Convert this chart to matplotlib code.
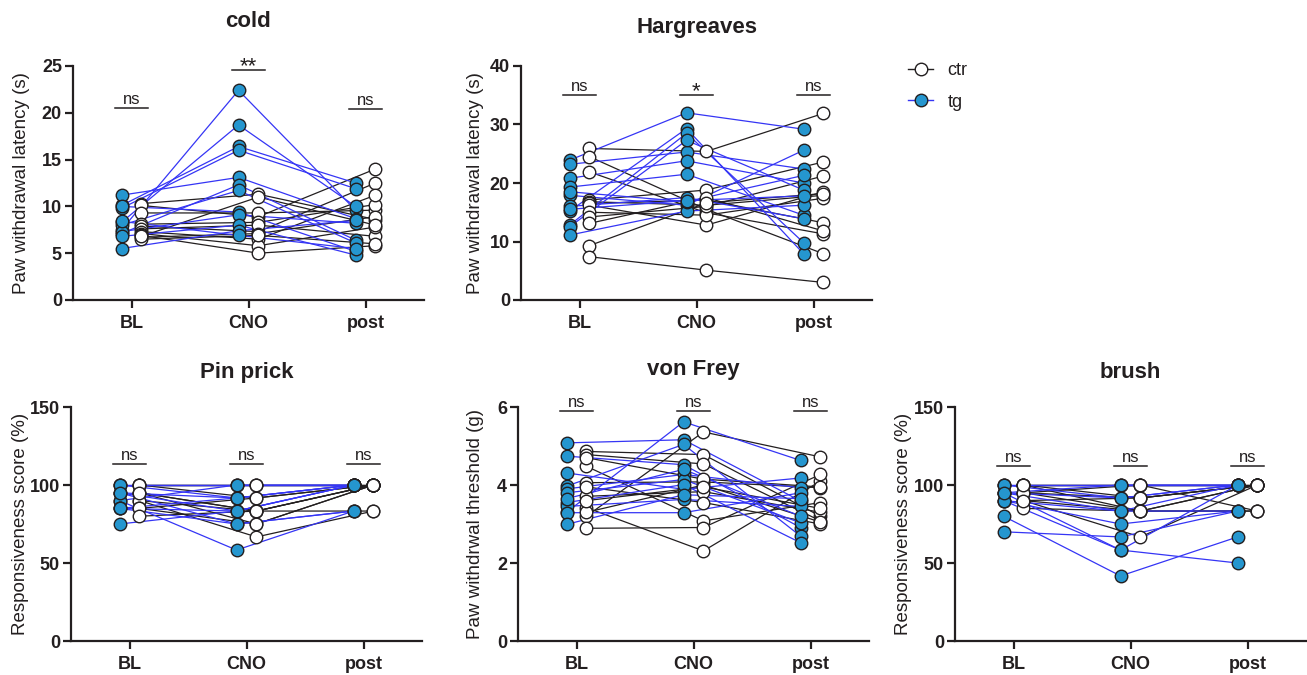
import numpy as np
import matplotlib.pyplot as plt
from matplotlib.lines import Line2D

plt.rcParams['font.family'] = ['Liberation Sans', 'DejaVu Sans']

conditions = ['BL', 'CNO', 'post']

# rows: BL, CNO, post -- one column per mouse
cold_ctr = [[10.3, 10.1, 9.3, 8.1, 7.9, 7.6, 7.3, 7.1, 6.9, 6.7, 6.5, 6.8],
            [11.3, 8.9, 9.3, 8.3, 7.3, 8.0, 6.5, 5.8, 5.0, 7.1, 6.9, 11.0],
            [8.6, 14.0, 9.6, 10.2, 12.5, 6.8, 11.2, 7.8, 5.8, 8.9, 6.0, 8.0]]
cold_tg = [[7.5, 8.3, 10.1, 9.8, 11.2, 7.1, 8.0, 10.0, 7.3, 6.8, 5.5, 8.4],
           [22.4, 18.7, 16.4, 16.0, 13.1, 12.3, 11.7, 9.4, 9.1, 8.0, 7.4, 6.9],
           [9.6, 10.0, 12.5, 11.9, 8.7, 6.4, 6.1, 5.2, 8.2, 4.8, 8.5, 5.5]]

harg_ctr = [[25.9, 24.5, 21.9, 17.1, 16.8, 16.5, 16.2, 15.0, 14.2, 13.1, 9.3, 7.4],
            [25.4, 15.5, 14.9, 18.8, 16.2, 17.1, 12.8, 14.5, 16.0, 17.5, 16.6, 5.1],
            [31.9, 7.9, 11.3, 23.6, 17.9, 13.2, 18.5, 17.4, 21.2, 11.8, 18.2, 3.0]]
harg_tg = [[23.9, 23.2, 20.8, 19.3, 17.9, 16.0, 15.2, 12.8, 12.5, 11.1, 18.5, 15.5],
           [32.0, 25.3, 23.8, 21.5, 16.2, 17.5, 29.3, 28.5, 27.3, 15.2, 16.8, 17.0],
           [29.2, 22.4, 20.0, 14.5, 25.6, 13.9, 7.9, 9.8, 18.8, 16.2, 21.3, 17.8]]

pin_ctr = [[100, 100, 100, 95, 95, 90, 90, 85, 85, 80, 100, 95],
           [100, 100, 91.7, 83.3, 75, 66.7, 83.3, 91.7, 75, 83.3, 100, 83.3],
           [100, 100, 100, 100, 100, 83.3, 100, 100, 100, 83.3, 100, 100]]
pin_tg = [[100, 100, 95, 95, 90, 90, 85, 85, 85, 75, 100, 95],
          [100, 91.7, 83.3, 75, 58.3, 100, 91.7, 83.3, 75, 83.3, 100, 91.7],
          [100, 100, 100, 83.3, 83.3, 100, 100, 100, 83.3, 100, 100, 100]]

vf_ctr = [[3.20, 4.86, 4.78, 4.48, 4.06, 3.71, 3.42, 2.89, 3.95, 3.30, 4.70, 3.60],
          [5.36, 4.78, 4.54, 3.08, 4.08, 3.83, 2.31, 2.91, 3.55, 4.00, 4.15, 3.95],
          [4.72, 3.20, 3.08, 3.55, 3.93, 3.30, 4.10, 4.27, 3.00, 3.05, 3.95, 3.40]]
vf_tg = [[3.30, 5.08, 4.74, 4.31, 3.97, 3.90, 3.80, 3.55, 3.45, 3.29, 2.99, 3.65],
         [5.62, 5.16, 4.52, 3.89, 5.04, 4.27, 4.14, 4.01, 3.63, 3.29, 3.75, 4.40],
         [4.63, 3.59, 2.91, 4.18, 2.69, 3.93, 3.03, 2.52, 3.45, 3.80, 3.65, 3.20]]

brush_ctr = [[100, 100, 100, 95, 95, 90, 90, 85, 100, 95, 100, 90],
             [100, 100, 91.7, 83.3, 91.7, 83.3, 66.7, 83.3, 100, 100, 83.3, 91.7],
             [100, 100, 100, 100, 100, 83.3, 100, 83.3, 100, 83.3, 100, 100]]
brush_tg = [[100, 100, 95, 95, 90, 90, 80, 70, 95, 90, 100, 95],
            [100, 100, 91.7, 83.3, 75, 58.3, 41.7, 66.7, 58.3, 83.3, 91.7, 100],
            [100, 100, 100, 83.3, 83.3, 50, 66.7, 83.3, 100, 100, 100, 100]]

# significance labels and the height of their bars (data units)
cold_stats = ['ns', '**', 'ns']
cold_bar_y = [20.5, 24.6, 20.4]
harg_stats = ['ns', '*', 'ns']
harg_bar_y = [35.1, 35.1, 35.1]
pin_stats = ['ns', 'ns', 'ns']
pin_bar_y = [113.5, 113.5, 113.5]
vf_stats = ['ns', 'ns', 'ns']
vf_bar_y = [5.9, 5.9, 5.9]
brush_stats = ['ns', 'ns', 'ns']
brush_bar_y = [112, 112, 112]

dark = '#231f20'
blue_fill = '#2596cf'
blue_line = '#3535f5'
off = 0.085
msize = 9

W, H = 1307, 675
fig = plt.figure(figsize=(W / 100, H / 100), dpi=100)


def px_axes(left, top, w=351, h=234):
    return fig.add_axes([left / W, 1 - (top + h) / H, w / W, h / H])


def panel(ax, ctr, tg, title, title_pad, ylabel, ylab_x, ymax, ystep,
          stats, bar_y):
    ctr = np.array(ctr, dtype=float)
    tg = np.array(tg, dtype=float)
    x = np.arange(3)
    for i in range(ctr.shape[1]):
        ax.plot(x + off, ctr[:, i], color=dark, lw=0.9, zorder=2)
    for i in range(tg.shape[1]):
        ax.plot(x - off, tg[:, i], color=blue_line, lw=0.9, zorder=2)
    for j in range(3):
        ax.plot(np.full(ctr.shape[1], j + off), ctr[j], 'o', ms=msize,
                mfc='white', mec=dark, mew=1.0, zorder=3, clip_on=False)
        ax.plot(np.full(tg.shape[1], j - off), tg[j], 'o', ms=msize,
                mfc=blue_fill, mec=dark, mew=1.0, zorder=3, clip_on=False)
        # significance bar
        ax.plot([j - 0.14, j + 0.14], [bar_y[j], bar_y[j]], color=dark,
                lw=1.1, clip_on=False)
        if stats[j] == 'ns':
            ax.annotate('ns', (j, bar_y[j]), xytext=(0, 2.8),
                        textcoords='offset points', ha='center',
                        va='baseline', fontsize=12, color=dark)
        else:
            ax.annotate(stats[j], (j, bar_y[j]), xytext=(0, -1.5),
                        textcoords='offset points', ha='center',
                        va='baseline', fontsize=16, color=dark)

    ax.set_xlim(-0.5, 2.5)
    ax.set_ylim(0, ymax)
    ax.set_yticks(np.arange(0, ymax + ystep / 2, ystep))
    ax.set_xticks(x)
    ax.set_xticklabels(conditions)
    for s in ['top', 'right']:
        ax.spines[s].set_visible(False)
    for s in ['left', 'bottom']:
        ax.spines[s].set_linewidth(1.6)
        ax.spines[s].set_color(dark)
    ax.tick_params(width=1.6, length=6, color=dark, labelcolor=dark,
                   labelsize=13)
    ax.tick_params(axis='x', pad=5)
    ax.tick_params(axis='y', pad=2)
    for lab in ax.get_xticklabels() + ax.get_yticklabels():
        lab.set_fontweight('bold')
    ax.set_ylabel(ylabel, fontsize=13.5, color=dark)
    ax.yaxis.set_label_coords(ylab_x, 0.5)
    ax.set_title(title, fontsize=16, fontweight='bold', color=dark,
                 pad=title_pad)


ax1 = px_axes(73, 66)
panel(ax1, cold_ctr, cold_tg, 'cold', 28, 'Paw withdrawal latency (s)',
      -0.122, 25, 5, cold_stats, cold_bar_y)
ax2 = px_axes(521, 66)
panel(ax2, harg_ctr, harg_tg, 'Hargreaves', 24, 'Paw withdrawal latency (s)',
      -0.105, 40, 10, harg_stats, harg_bar_y)
ax3 = px_axes(71, 407)
panel(ax3, pin_ctr, pin_tg, 'Pin prick', 21, 'Responsiveness score (%)',
      -0.120, 150, 50, pin_stats, pin_bar_y)
ax4 = px_axes(518, 407)
panel(ax4, vf_ctr, vf_tg, 'von Frey', 23, 'Paw withdrwal threshold (g)',
      -0.097, 6, 2, vf_stats, vf_bar_y)
ax5 = px_axes(955, 407)
panel(ax5, brush_ctr, brush_tg, 'brush', 21, 'Responsiveness score (%)',
      -0.122, 150, 50, brush_stats, brush_bar_y)

handles = [Line2D([], [], color=dark, lw=1, marker='o', ms=msize,
                  mfc='white', mec=dark),
           Line2D([], [], color=blue_line, lw=1, marker='o', ms=msize,
                  mfc=blue_fill, mec=dark)]
fig.legend(handles, ['ctr', 'tg'], loc='upper left',
           bbox_to_anchor=(908 / W, 1 - 62 / H), frameon=False, fontsize=13,
           handlelength=1.4, handletextpad=0.8, labelspacing=0.82,
           borderpad=0, borderaxespad=0, labelcolor=dark)

fig.savefig('out.png', dpi=100)
